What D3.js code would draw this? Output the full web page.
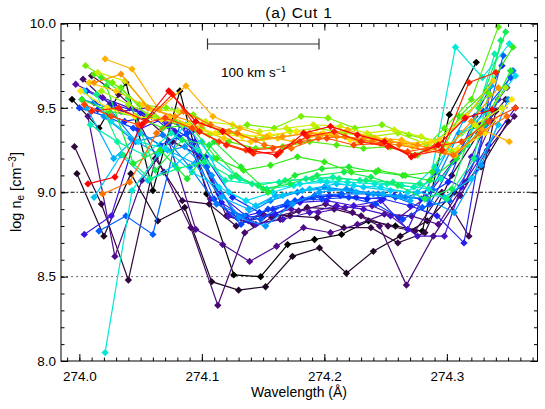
<!DOCTYPE html>
<html>
<head>
<meta charset="utf-8">
<script src="https://cdn.jsdelivr.net/npm/d3@7"></script>
<style>
  body { margin: 0; background: #fff; }
  svg { display: block; font-family: "Liberation Sans", Arial, sans-serif; }
</style>
</head>
<body>
<svg id="chart" width="545" height="409"></svg>
<script>
// wavelength of first sample of each spectrum along the cut, and the sample spacing
const dispersion = 0.022;
const startWl = [
  273.994, 273.998, 273.996, 274.010, 274.003, 274.007, 273.997, 274.012, 274.004,
  274.006, 274.015, 274.000, 274.016, 274.002, 274.020, 274.006, 274.012, 274.004,
  274.021, 274.009, 274.014, 274.018, 274.022, 274.002, 274.012, 274.005, 274.018,
  274.015, 274.001, 274.008, 274.021, 274.012, 274.019, 274.004, 274.010, 274.007
];

// log n_e per position along the cut (black -> red)
const p00 = [9.55, 9.38, 9.65, 9.01, 9.60, 8.99, 8.51, 8.50, 8.69, 8.72, 8.75, 8.83, 8.80, 8.77, 9.46, 9.77];
const p01 = [9.11, 8.74, 9.11, 8.83, 8.91, 8.47, 8.42, 8.44, 8.62, 8.67, 8.52, 8.65, 8.74, 8.83, 9.00, 9.15, 9.42];
const p02 = [9.27, 8.93, 8.48, 9.20, 8.95, 8.93, 8.80, 8.87, 8.86, 8.85, 8.79, 8.79, 8.70, 8.76, 9.10, 9.35, 9.55];
const p03 = [9.69, 9.58, 9.44, 9.30, 9.22, 8.86, 8.81, 8.84, 8.91, 8.90, 8.86, 8.80, 8.77, 9.00, 8.74, 9.48];
const p04 = [9.67, 9.52, 9.44, 9.12, 8.79, 8.33, 8.76, 8.85, 8.89, 8.93, 8.88, 8.80, 8.45, 8.74, 8.98, 9.25, 9.45];
const p05 = [9.45, 8.62, 9.07, 9.30, 8.78, 8.69, 8.59, 8.68, 8.79, 8.76, 8.81, 8.87, 8.86, 8.81, 9.06, 9.42];
const p06 = [9.64, 9.56, 9.50, 9.44, 9.39, 8.96, 8.85, 8.86, 8.90, 8.88, 8.91, 8.92, 8.85, 8.97, 9.18, 9.40, 9.62];
const p07 = [9.53, 9.48, 9.50, 9.36, 9.20, 8.86, 8.81, 8.84, 8.88, 8.92, 8.90, 8.86, 8.74, 8.74, 9.21, 9.55];
const p08 = [8.75, 8.86, 9.37, 9.44, 9.36, 8.99, 8.86, 8.90, 8.94, 8.95, 8.92, 8.95, 8.78, 9.12, 9.03, 9.28, 9.50];
const p09 = [9.60, 9.52, 9.47, 9.40, 9.30, 8.94, 8.83, 8.87, 8.96, 8.98, 8.97, 8.96, 8.92, 8.86, 8.70, 9.63];
const p10 = [9.49, 9.42, 9.45, 9.33, 9.21, 8.97, 8.88, 8.92, 8.97, 8.98, 8.96, 8.98, 8.96, 9.06, 9.45, 9.75];
const p11 = [9.50, 9.45, 9.38, 9.28, 9.35, 8.96, 8.81, 8.90, 8.95, 8.96, 8.97, 8.93, 8.84, 8.93, 9.22, 9.48, 9.68];
const p12 = [8.77, 8.86, 8.75, 9.40, 9.15, 8.88, 8.84, 8.94, 8.98, 8.99, 8.99, 8.97, 8.91, 8.95, 9.20, 9.81];
const p13 = [9.55, 9.50, 9.30, 9.34, 9.15, 8.93, 8.86, 8.95, 9.00, 9.03, 9.01, 8.99, 8.97, 9.02, 9.35, 9.40, 9.72];
const p14 = [9.45, 9.32, 9.23, 9.27, 9.10, 8.85, 8.80, 8.93, 9.00, 9.02, 8.99, 8.98, 8.96, 8.88, 9.16, 9.55];
const p15 = [9.50, 9.20, 9.35, 9.25, 9.17, 8.97, 8.90, 8.98, 9.01, 9.02, 9.00, 8.99, 8.95, 9.13, 9.43, 9.63];
const p16 = [8.97, 9.22, 9.07, 9.16, 9.30, 9.00, 8.92, 8.98, 9.02, 9.05, 9.03, 9.01, 9.00, 8.97, 9.08, 9.40];
const p17 = [9.60, 9.42, 9.30, 9.26, 9.12, 9.03, 8.95, 9.00, 9.05, 9.06, 9.04, 9.03, 9.00, 9.15, 9.35, 9.48, 9.69];
const p18 = [8.05, 9.01, 9.23, 9.40, 9.20, 9.08, 9.02, 9.04, 9.07, 9.06, 9.05, 9.04, 9.02, 9.86, 9.68, 9.88];
const p19 = [9.40, 9.30, 9.22, 9.35, 9.25, 9.07, 9.05, 9.06, 9.08, 9.09, 9.07, 9.05, 9.03, 9.08, 9.28, 9.82];
const p20 = [9.58, 9.22, 9.08, 9.14, 9.18, 9.09, 9.04, 9.07, 9.08, 9.08, 9.07, 9.06, 9.05, 8.96, 9.20, 9.90];
const p21 = [9.68, 9.56, 9.13, 9.31, 9.28, 9.10, 9.02, 9.05, 9.10, 9.12, 9.09, 9.04, 8.96, 9.02, 9.50, 9.95];
const p22 = [9.63, 9.17, 9.25, 9.08, 9.30, 9.15, 9.00, 9.10, 9.14, 9.15, 9.12, 9.10, 9.07, 9.20, 9.40, 9.72];
const p23 = [9.55, 9.48, 9.45, 9.38, 9.40, 9.20, 9.13, 9.16, 9.21, 9.18, 9.12, 9.13, 9.10, 9.12, 9.45, 9.60, 9.86];
const p24 = [9.70, 9.62, 9.45, 9.42, 9.38, 9.30, 9.26, 9.27, 9.30, 9.28, 9.26, 9.27, 9.22, 9.38, 9.55, 9.98];
const p25 = [9.75, 9.65, 9.52, 9.50, 9.46, 9.36, 9.40, 9.38, 9.45, 9.44, 9.38, 9.40, 9.34, 9.30, 9.45, 9.58];
const p26 = [9.60, 9.52, 9.45, 9.40, 9.34, 9.35, 9.32, 9.36, 9.38, 9.35, 9.33, 9.35, 9.29, 9.24, 9.38, 9.62];
const p27 = [9.71, 9.66, 9.49, 9.48, 9.42, 9.40, 9.36, 9.38, 9.40, 9.39, 9.35, 9.37, 9.33, 9.28, 9.40, 9.50];
const p28 = [9.60, 9.50, 9.45, 9.43, 9.40, 9.35, 9.33, 9.34, 9.36, 9.35, 9.31, 9.32, 9.29, 9.30, 9.25, 9.35, 9.55];
const p29 = [9.65, 9.60, 9.52, 9.45, 9.38, 9.32, 9.30, 9.32, 9.35, 9.34, 9.30, 9.31, 9.27, 9.31, 9.45, 9.66];
const p30 = [9.79, 9.73, 9.49, 9.63, 9.45, 9.38, 9.33, 9.30, 9.34, 9.37, 9.32, 9.31, 9.26, 9.22, 9.37, 9.30];
const p31 = [9.65, 9.70, 9.50, 9.45, 9.40, 9.36, 9.31, 9.33, 9.35, 9.33, 9.32, 9.30, 9.28, 9.24, 9.42, 9.62];
const p32 = [8.99, 9.06, 9.35, 9.48, 9.40, 9.35, 9.28, 9.26, 9.32, 9.33, 9.30, 9.28, 9.25, 9.22, 9.35, 9.45];
const p33 = [9.52, 9.45, 9.40, 9.44, 9.38, 9.30, 9.25, 9.26, 9.30, 9.32, 9.28, 9.29, 9.24, 9.27, 9.30, 9.42, 9.50];
const p34 = [9.48, 9.50, 9.42, 9.58, 9.36, 9.28, 9.23, 9.24, 9.33, 9.36, 9.30, 9.27, 9.22, 9.25, 9.65, 9.71];
const p35 = [9.05, 9.09, 9.40, 9.60, 9.42, 9.36, 9.25, 9.22, 9.35, 9.39, 9.34, 9.30, 9.21, 9.28, 9.44, 9.49];

const profiles = [p00, p01, p02, p03, p04, p05, p06, p07, p08, p09, p10, p11,
                  p12, p13, p14, p15, p16, p17, p18, p19, p20, p21, p22, p23,
                  p24, p25, p26, p27, p28, p29, p30, p31, p32, p33, p34, p35];

const xMajorTicks = [274.0, 274.1, 274.2, 274.3];
const yMajorTicks = [8.0, 8.5, 9.0, 9.5, 10.0];
const refLevels = [8.5, 9.0, 9.5];

const svg = d3.select("#chart");

var x = d3.scaleLinear().domain([273.985, 274.374]).range([61, 537.5]);
var y = d3.scaleLinear().domain([8.0, 10.0]).range([361, 23.5]);

// IDL-like rainbow colour table
var rainbow = d3.scaleLinear()
    .domain([0, 0.04, 0.10, 0.17, 0.23, 0.29, 0.36, 0.42, 0.48, 0.53, 0.58, 0.64, 0.71, 0.76, 0.80, 0.86, 0.91, 0.95, 1])
    .range(["#000000", "#2a0a34", "#44085f", "#5410a8", "#3a14e0", "#0a2cff", "#0070ff", "#00a8ff",
            "#00d8f4", "#00f0c8", "#10f070", "#20e820", "#70f000", "#b8f400", "#ffe400",
            "#ffae00", "#ff7800", "#ff3c00", "#ff0000"]);

// reference levels
svg.append("g").selectAll("line")
    .data(refLevels)
    .enter().append("line")
    .attr("x1", x.range()[0]).attr("x2", x.range()[1])
    .attr("y1", d => y(d)).attr("y2", d => y(d))
    .attr("stroke", d => d === 9.0 ? "#000" : "#666")
    .attr("stroke-width", 1)
    .attr("stroke-dasharray", d => d === 9.0 ? "4,2,1.5,2" : "2,3");

// profiles
var line = d3.line().x(d => x(d.wl)).y(d => y(d.ne));
var diamond = d3.symbol().type(d3.symbolSquare).size(27);

var series = svg.append("g").selectAll("g")
    .data(profiles.map((vals, s) => ({
        color: rainbow(s / (profiles.length - 1)),
        pts: vals.map((v, i) => ({ wl: startWl[s] + i * dispersion, ne: v }))
    })))
    .enter().append("g");

series.append("path")
    .attr("d", d => line(d.pts))
    .attr("fill", "none")
    .attr("stroke", d => d.color)
    .attr("stroke-width", 1.2);

series.each(function(d) {
    d3.select(this).selectAll("path.pt")
        .data(d.pts)
        .enter().append("path")
        .attr("class", "pt")
        .attr("d", diamond)
        .attr("transform", p => "translate(" + x(p.wl) + "," + y(p.ne) + ") rotate(45)")
        .attr("fill", d.color);
});

// axes: ticks on all four sides pointing inward
var xMinor = d3.range(273.99, 274.374, 0.01);
var yMinor = d3.range(8.0, 10.001, 0.1);
var fmt = d3.format(".1f");

function styleAxis(g) {
    g.select(".domain").remove();
    g.selectAll(".tick line").attr("stroke", "#000");
    g.selectAll("text").attr("font-size", "13.5px").attr("fill", "#000");
}

svg.append("g").attr("transform", "translate(0,361)")
    .call(d3.axisBottom(x).tickValues(xMinor).tickSize(-3.5).tickFormat(""))
    .call(styleAxis);
svg.append("g").attr("transform", "translate(0,361)")
    .call(d3.axisBottom(x).tickValues(xMajorTicks).tickSize(-7).tickPadding(10).tickFormat(fmt))
    .call(styleAxis);
svg.append("g").attr("transform", "translate(0,23.5)")
    .call(d3.axisTop(x).tickValues(xMinor).tickSize(-3.5).tickFormat(""))
    .call(styleAxis);
svg.append("g").attr("transform", "translate(0,23.5)")
    .call(d3.axisTop(x).tickValues(xMajorTicks).tickSize(-7).tickFormat(""))
    .call(styleAxis);

svg.append("g").attr("transform", "translate(61,0)")
    .call(d3.axisLeft(y).tickValues(yMinor).tickSize(-3.5).tickFormat(""))
    .call(styleAxis);
svg.append("g").attr("transform", "translate(61,0)")
    .call(d3.axisLeft(y).tickValues(yMajorTicks).tickSize(-7).tickPadding(5).tickFormat(fmt))
    .call(styleAxis);
svg.append("g").attr("transform", "translate(537.5,0)")
    .call(d3.axisRight(y).tickValues(yMinor).tickSize(-3.5).tickFormat(""))
    .call(styleAxis);
svg.append("g").attr("transform", "translate(537.5,0)")
    .call(d3.axisRight(y).tickValues(yMajorTicks).tickSize(-7).tickFormat(""))
    .call(styleAxis);

svg.append("rect")
    .attr("x", 61).attr("y", 23.5)
    .attr("width", 476.5).attr("height", 337.5)
    .attr("fill", "none").attr("stroke", "#000").attr("stroke-width", 1);

// velocity scale bar
var bar = svg.append("g").attr("stroke", "#333").attr("stroke-width", 1.2);
bar.append("line").attr("x1", 207.5).attr("x2", 319).attr("y1", 44).attr("y2", 44);
bar.append("line").attr("x1", 207.5).attr("x2", 207.5).attr("y1", 38.5).attr("y2", 49.5);
bar.append("line").attr("x1", 319).attr("x2", 319).attr("y1", 38.5).attr("y2", 49.5);

var bt = svg.append("text").attr("x", 221).attr("y", 77).attr("font-size", "13.5px");
bt.append("tspan").text("100 km s");
bt.append("tspan").attr("dy", -5).attr("font-size", "9px").text("\u22121");

// titles
svg.append("text")
    .attr("x", 299).attr("y", 18)
    .attr("text-anchor", "middle")
    .attr("font-size", "15.5px")
    .attr("letter-spacing", "0.8px")
    .text("(a) Cut 1");

svg.append("text")
    .attr("x", 299).attr("y", 397)
    .attr("text-anchor", "middle")
    .attr("font-size", "14px")
    .text("Wavelength (\u00c5)");

var yl = svg.append("text")
    .attr("transform", "translate(21,192) rotate(-90)")
    .attr("text-anchor", "middle")
    .attr("font-size", "14.5px");
yl.append("tspan").text("log n");
yl.append("tspan").attr("dy", 3).attr("font-size", "10px").text("e");
yl.append("tspan").attr("dy", -3).text(" [cm");
yl.append("tspan").attr("dy", -5.5).attr("font-size", "10px").text("\u22123");
yl.append("tspan").attr("dy", 5.5).text("]");
</script>
</body>
</html>
